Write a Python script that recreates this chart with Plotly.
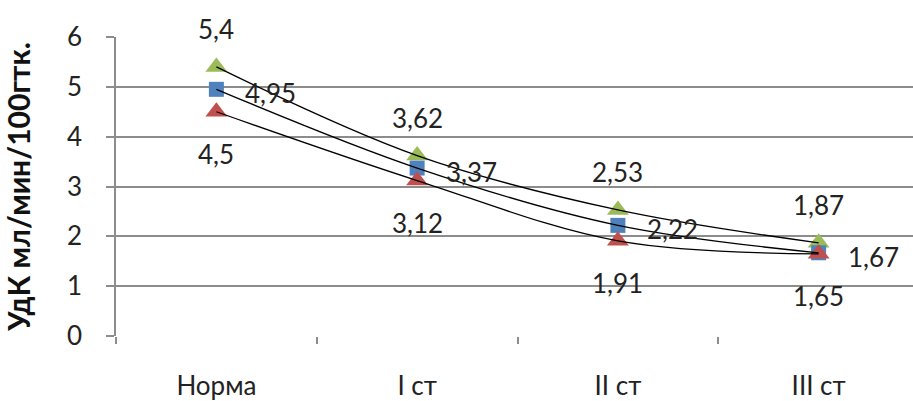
import plotly.graph_objects as go

categories = ["Норма", "I ст", "II ст", "III ст"]
upper = [5.4, 3.62, 2.53, 1.87]
middle = [4.95, 3.37, 2.22, 1.67]
lower = [4.5, 3.12, 1.91, 1.65]
y_ticks = [0, 1, 2, 3, 4, 5, 6]
y_title = "УдК мл/мин/100гтк."

FONT = "Lato, 'Open Sans', sans-serif"
GRID = "#8c8c8c"
FS = 26

def fmt(v):
    return f"{v:g}".replace(".", ",")

fig = go.Figure()

series = [
    (upper, "#9BBB59", "triangle-up", 19),
    (middle, "#4F81BD", "square", 15),
    (lower, "#C0504D", "triangle-up", 19),
]
for vals, col, sym, sz in series:
    fig.add_trace(go.Scatter(
        x=categories, y=vals, mode="markers",
        marker=dict(color=col, symbol=sym, size=sz, line=dict(width=0)),
        showlegend=False, cliponaxis=False,
    ))
for vals, _, _, _ in series:
    fig.add_trace(go.Scatter(
        x=categories, y=vals, mode="lines",
        line=dict(color="black", width=1.3, shape="spline", smoothing=1.0),
        showlegend=False, cliponaxis=False,
    ))

for i, c in enumerate(categories):
    fig.add_annotation(x=c, y=upper[i], text=fmt(upper[i]), showarrow=False,
                       yshift=38, font=dict(size=FS, color="#222", family=FONT))
    fig.add_annotation(x=c, y=middle[i], text=fmt(middle[i]), showarrow=False,
                       xshift=27, yshift=-4, xanchor="left",
                       font=dict(size=FS, color="#222", family=FONT))
    fig.add_annotation(x=c, y=lower[i], text=fmt(lower[i]), showarrow=False,
                       yshift=-42, font=dict(size=FS, color="#222", family=FONT))

fig.update_layout(
    width=913, height=401,
    margin=dict(l=116, r=0, t=37, b=65),
    paper_bgcolor="white", plot_bgcolor="white",
    font=dict(family=FONT, size=FS, color="#222"),
    xaxis=dict(
        type="category", range=[-0.5, 3.47], automargin=False,
        tickson="boundaries", ticks="outside", ticklen=7, tickcolor=GRID, tickwidth=1.5,
        showgrid=False, showline=False, zeroline=False,
        ticklabelstandoff=32,
        tickfont=dict(size=FS, family=FONT, color="#222"),
    ),
    yaxis=dict(
        range=[0, 6], tickvals=y_ticks, ticktext=[str(t) for t in y_ticks],
        automargin=False,
        showgrid=True, gridcolor=GRID, gridwidth=1.5,
        showline=True, linecolor=GRID, linewidth=1.5,
        ticks="outside", ticklen=8, tickcolor=GRID, tickwidth=1.5,
        zeroline=False, ticklabelstandoff=19,
        tickfont=dict(size=FS, family=FONT, color="#222"),
        title=dict(text=y_title, standoff=38,
                   font=dict(size=30, family=FONT, color="#111", weight="bold")),
    ),
)
fig.write_html("out.html", config={"displayModeBar": False},
               post_script="document.body.style.margin='0';document.body.style.overflow='hidden';")
